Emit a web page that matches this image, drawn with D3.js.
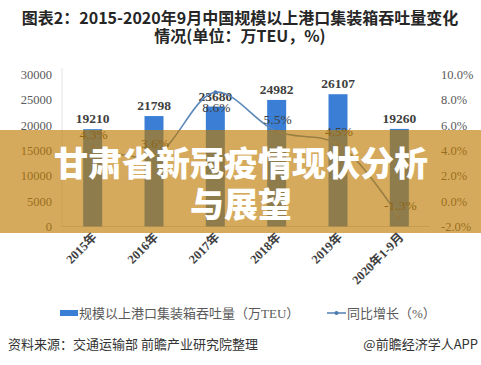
<!DOCTYPE html>
<html><head><meta charset="utf-8">
<script src="https://cdn.jsdelivr.net/npm/d3@7"></script>
<style>
html,body{margin:0;padding:0;background:#fff;}
svg{display:block;}
</style></head>
<body>
<script>
const categories = ["2015年","2016年","2017年","2018年","2019年","2020年1-9月"];
const throughput = [19210, 21798, 23680, 24982, 26107, 19260];
const growth = [4.3, 3.6, 8.6, 5.5, 4.5, -1.3];
const leftTicks = [0, 5000, 10000, 15000, 20000, 25000, 30000];
const rightTicks = [-2, 0, 2, 4, 6, 8, 10];

const W = 481, H = 365;
const svg = d3.select("body").append("svg").attr("width", W).attr("height", H);
svg.append("rect").attr("width", W).attr("height", H).attr("fill", "#fff");

const serif = "'Liberation Serif','Times New Roman','Noto Sans CJK SC',serif";
const sans = "'Noto Sans CJK SC','Noto Sans',sans-serif";

// title
const title = svg.append("text").attr("text-anchor", "middle")
  .attr("font-family", sans).attr("font-weight", "bold").attr("font-size", 16)
  .attr("fill", "#262626");
title.append("tspan").attr("x", 240).attr("y", 24).text("图表2：2015-2020年9月中国规模以上港口集装箱吞吐量变化");
title.append("tspan").attr("x", 240).attr("y", 42).text("情况(单位：万TEU，%)");

const x = d3.scaleBand().domain(categories).range([62, 430]);
const yL = d3.scaleLinear().domain([0, 30000]).range([226.5, 74.5]);
const yR = d3.scaleLinear().domain([-2, 10]).range([226.5, 74.5]);

// axis lines
svg.append("line").attr("x1", 62).attr("x2", 62).attr("y1", 68).attr("y2", yL(0))
  .attr("stroke", "#e3e3e3").attr("stroke-width", 1);
svg.append("line").attr("x1", 62).attr("x2", 430).attr("y1", yL(0)).attr("y2", yL(0))
  .attr("stroke", "#d9d9d9").attr("stroke-width", 1);

// left axis
const axL = d3.axisLeft(yL).tickValues(leftTicks).tickSize(0).tickPadding(0).tickFormat(d3.format("d"));
const gL = svg.append("g").attr("transform", "translate(52,0)").call(axL);
gL.select(".domain").remove();
gL.selectAll("text").attr("font-family", serif).attr("font-size", 12.5).attr("fill", "#595959");

// right axis
const axR = d3.axisRight(yR).tickValues(rightTicks).tickSize(0).tickPadding(0).tickFormat(d => d.toFixed(1) + "%");
const gR = svg.append("g").attr("transform", "translate(441,0)").call(axR);
gR.select(".domain").remove();
gR.selectAll("text").attr("font-family", serif).attr("font-size", 12.5).attr("fill", "#595959");

// bars
const bw = 19;
svg.selectAll("rect.bar").data(throughput).enter().append("rect").attr("class", "bar")
  .attr("x", (d, i) => x(categories[i]) + x.bandwidth() / 2 - bw / 2)
  .attr("y", d => yL(d)).attr("width", bw).attr("height", d => yL(0) - yL(d))
  .attr("fill", "#3a7fd5");

// bar labels
svg.selectAll("text.bl").data(throughput).enter().append("text").attr("class", "bl")
  .attr("x", (d, i) => x(categories[i]) + x.bandwidth() / 2)
  .attr("y", d => yL(d) - 6)
  .attr("text-anchor", "middle").attr("font-family", serif).attr("font-weight", "bold")
  .attr("font-size", 13.5).attr("fill", "#404040").text(d => d);

// line
const cx = (d, i) => x(categories[i]) + x.bandwidth() / 2;
const line = d3.line().x((d, i) => cx(d, i)).y(d => yR(d)).curve(d3.curveCatmullRom.alpha(0.5));
svg.append("path").datum(growth).attr("d", line).attr("fill", "none")
  .attr("stroke", "#5b87b9").attr("stroke-width", 1.6);
svg.selectAll("circle.pt").data(growth).enter().append("circle").attr("class", "pt")
  .attr("cx", cx).attr("cy", d => yR(d)).attr("r", 2).attr("fill", "#4a78b0");

// line labels
const peak = d3.maxIndex(growth);
svg.selectAll("text.ll").data(growth).enter().append("text").attr("class", "ll")
  .attr("x", (d, i) => cx(d, i) + 1)
  .attr("y", (d, i) => i === peak ? yR(d) + 20 : yR(d) - 8)
  .attr("text-anchor", "middle").attr("font-family", serif)
  .attr("font-size", 13.5).attr("fill", "#404040").text(d => d.toFixed(1) + "%");

// x labels
svg.selectAll("text.xl").data(categories).enter().append("text").attr("class", "xl")
  .attr("transform", d => `translate(${x(d) + x.bandwidth() / 2 + 5},${238}) rotate(-45)`)
  .attr("text-anchor", "end").attr("font-family", serif).attr("font-weight", "bold")
  .attr("font-size", 12.5).attr("fill", "#404040").text(d => d);

// legend
svg.append("rect").attr("x", 60).attr("y", 310).attr("width", 18).attr("height", 6).attr("fill", "#3a7fd5");
svg.append("text").attr("x", 79).attr("y", 318).attr("font-family", serif).attr("font-size", 13)
  .attr("fill", "#595959").text("规模以上港口集装箱吞吐量（万TEU）");
svg.append("line").attr("x1", 327).attr("x2", 346).attr("y1", 313).attr("y2", 313)
  .attr("stroke", "#5b87b9").attr("stroke-width", 1.6);
svg.append("circle").attr("cx", 336.5).attr("cy", 313).attr("r", 2).attr("fill", "#4a78b0");
svg.append("text").attr("x", 347).attr("y", 318).attr("font-family", serif).attr("font-size", 13)
  .attr("fill", "#595959").text("同比增长（%）");

// footer
svg.append("text").attr("x", 8).attr("y", 349).attr("font-family", sans).attr("font-size", 13)
  .attr("fill", "#333").text("资料来源：交通运输部 前瞻产业研究院整理");
svg.append("text").attr("x", 478).attr("y", 349).attr("text-anchor", "end").attr("font-family", sans)
  .attr("font-size", 13).attr("fill", "#333").text("@前瞻经济学人APP");

// banner overlay
svg.append("rect").attr("x", 0).attr("y", 130).attr("width", W).attr("height", 103)
  .attr("fill", "rgb(190,122,0)").attr("fill-opacity", 0.64);
const bt = svg.append("text").attr("text-anchor", "middle").attr("font-family", sans)
  .attr("font-weight", "900").attr("font-size", 34).attr("fill", "#fff");
bt.append("tspan").attr("x", 241).attr("y", 176).text("甘肃省新冠疫情现状分析");
bt.append("tspan").attr("x", 241).attr("y", 217).text("与展望");
</script>
</body></html>
